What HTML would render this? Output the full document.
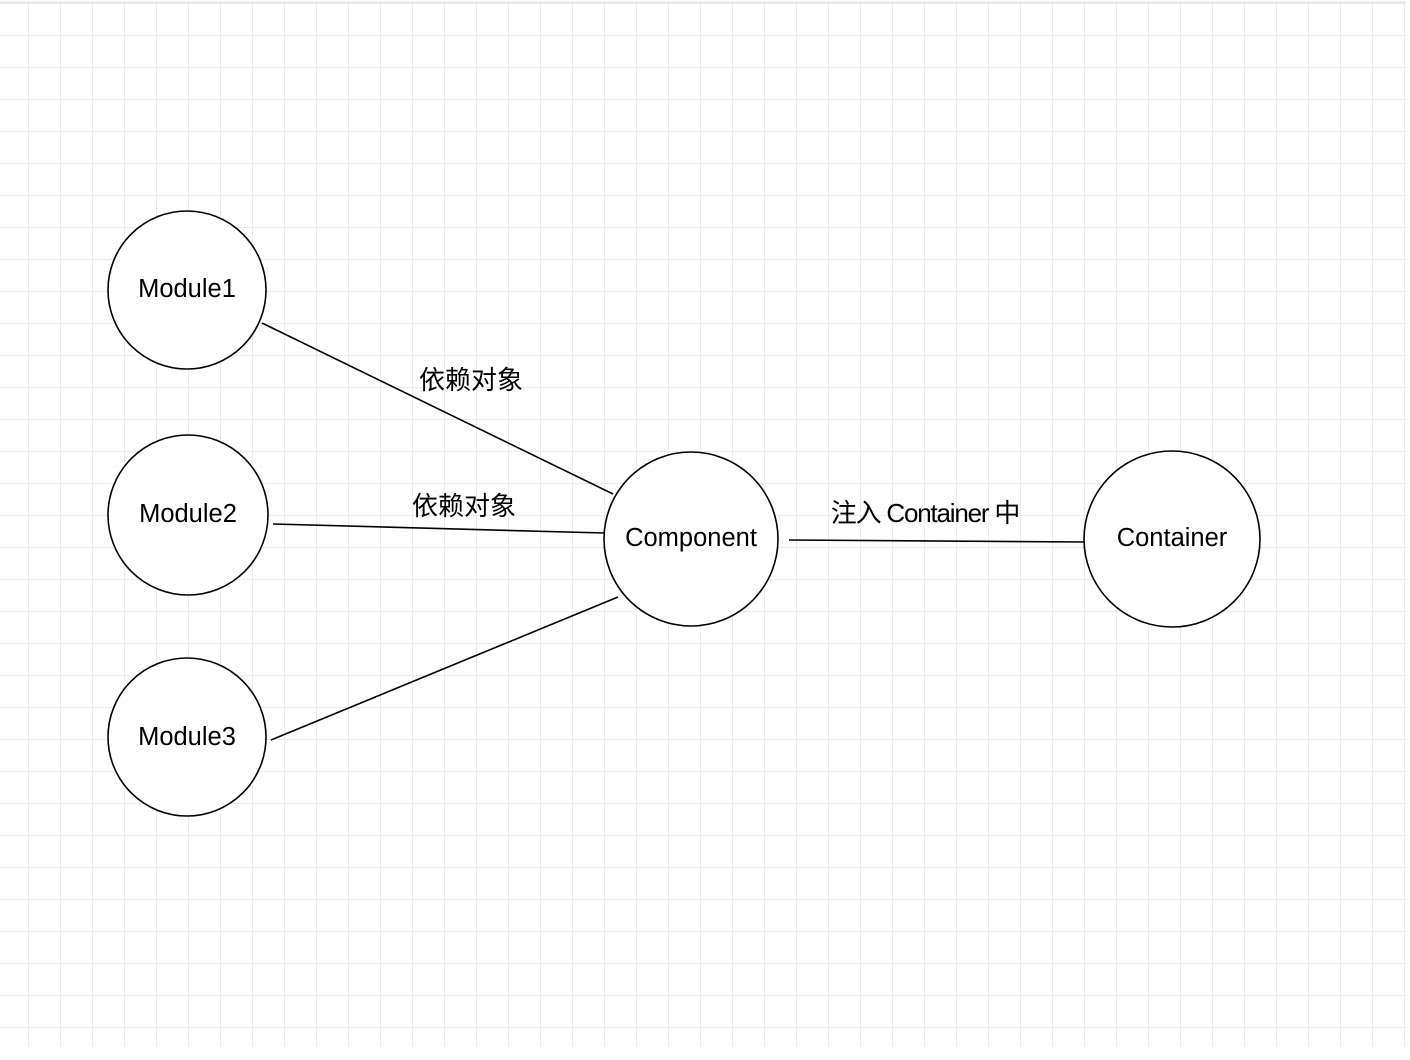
<!DOCTYPE html>
<html><head><meta charset="utf-8"><style>
html,body{margin:0;padding:0;background:#fff;width:1410px;height:1060px;overflow:hidden}
</style></head><body>
<svg width="1410" height="1060" xmlns="http://www.w3.org/2000/svg">
<defs>
<pattern id="minor" x="28" y="3" width="8" height="8" patternUnits="userSpaceOnUse">
<path d="M0 0H8M0 0V8" stroke="#f8f8f8" stroke-width="1" fill="none"/>
</pattern>
<pattern id="major" x="28" y="3" width="32" height="32" patternUnits="userSpaceOnUse">
<path d="M0 0.5H32M0.5 0V32" stroke="#ebebeb" stroke-width="1" fill="none"/>
</pattern>
</defs>
<rect x="0" y="2" width="1406" height="1045" fill="url(#minor)"/>
<rect x="0" y="2" width="1406" height="1045" fill="url(#major)"/>
<line x1="0" y1="2.5" x2="1406" y2="2.5" stroke="#e6e6e6" stroke-width="2"/>
<g stroke="#000" stroke-width="1.6" fill="none">
<line x1="262" y1="323" x2="613" y2="494"/>
<line x1="273" y1="524" x2="604" y2="533"/>
<line x1="271" y1="740" x2="618" y2="597"/>
<line x1="789" y1="540" x2="1084" y2="542"/>
<circle cx="187" cy="290" r="79" fill="#fff"/>
<circle cx="188" cy="515" r="80" fill="#fff"/>
<circle cx="187" cy="737" r="79" fill="#fff"/>
<circle cx="691" cy="539" r="87" fill="#fff"/>
<circle cx="1172" cy="539" r="88" fill="#fff"/>
</g>
<g font-family="Liberation Sans, 'Noto Sans CJK SC', sans-serif" font-size="25.5" text-anchor="middle" fill="#000">
<text x="187" y="297">Module1</text>
<text x="188" y="522">Module2</text>
<text x="187" y="745">Module3</text>
<text x="691" y="546">Component</text>
<text x="1172" y="546">Container</text>
</g>
<g font-family="Liberation Sans, 'Noto Sans CJK SC', sans-serif" font-size="26" text-anchor="middle" fill="#000">
<text x="471" y="389">依赖对象</text>
<text x="464" y="515">依赖对象</text>
<text x="925" y="522" letter-spacing="-1.2">注入 Container 中</text>
</g>
</svg>
</body></html>
